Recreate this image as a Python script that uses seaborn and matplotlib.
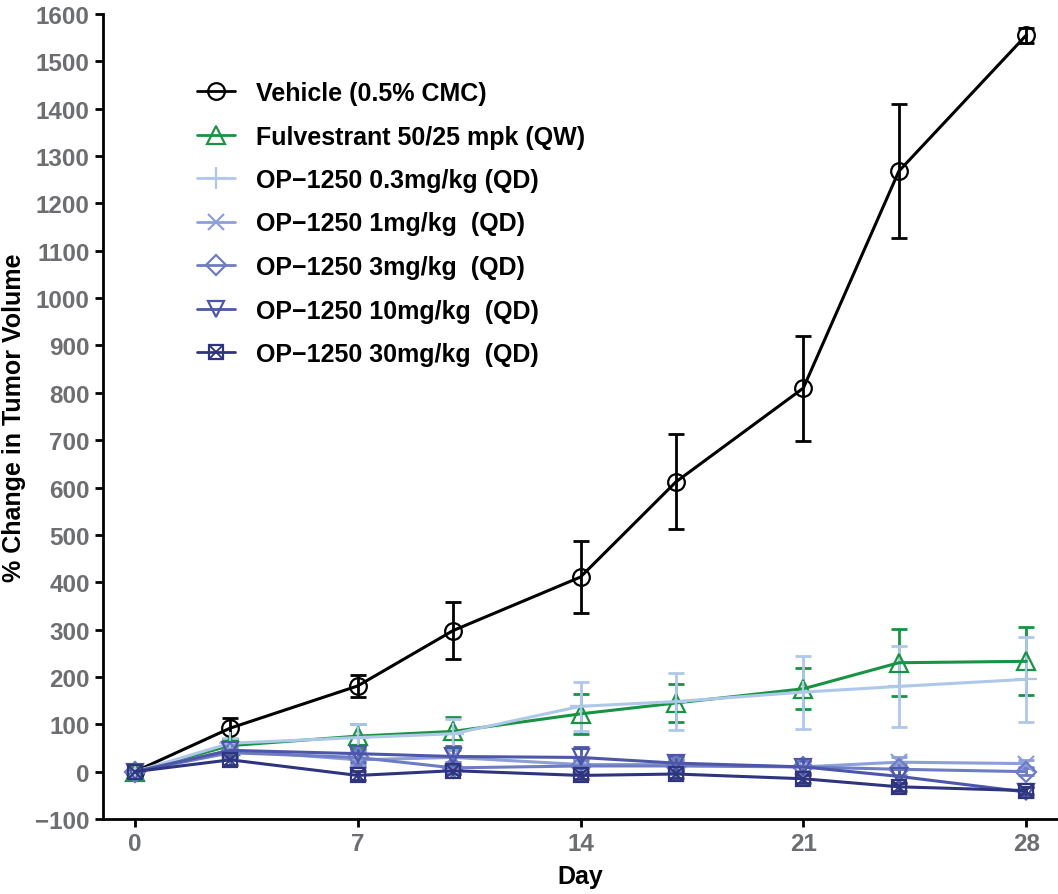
import numpy as np
import pandas as pd
import matplotlib
matplotlib.use("Agg")
import matplotlib.pyplot as plt
import seaborn as sns
from matplotlib.lines import Line2D
from matplotlib.legend_handler import HandlerTuple

sns.set_style("ticks")
plt.rcParams['font.family'] = ['Liberation Sans', 'DejaVu Sans']
plt.rcParams['font.weight'] = 'bold'
plt.rcParams['text.color'] = 'black'
plt.rcParams['axes.labelcolor'] = 'black'

days = [0, 3, 7, 10, 14, 17, 21, 24, 28]

labels = ["Vehicle (0.5% CMC)", "Fulvestrant 50/25 mpk (QW)", "OP\u22121250 0.3mg/kg (QD)",
          "OP\u22121250 1mg/kg  (QD)", "OP\u22121250 3mg/kg  (QD)", "OP\u22121250 10mg/kg  (QD)",
          "OP\u22121250 30mg/kg  (QD)"]

vehicle = [0, 92, 181, 298, 411, 612, 810, 1268, 1555]
vehicle_err = [0, 22, 23, 61, 77, 100, 111, 141, 16]
fulv = [0, 55, 75, 85, 122, 145, 175, 230, 233]
fulv_err = [0, 12, 25, 30, 43, 40, 43, 71, 72]
op03 = [0, 60, 72, 80, 138, 148, 168, 180, 195]
op03_err = [0, 12, 28, 32, 52, 60, 77, 86, 90]
op1 = [0, 45, 25, 30, 15, 15, 10, 20, 17]
op1_err = [0, 12, 15, 15, 12, 12, 12, 10, 8]
op3 = [0, 40, 30, 8, 12, 12, 10, 5, 0]
op3_err = [0, 12, 15, 12, 12, 12, 12, 12, 8]
op10 = [0, 45, 38, 32, 30, 18, 10, -10, -43]
op10_err = [0, 14, 18, 20, 22, 16, 15, 15, 10]
op30 = [0, 25, -8, 2, -8, -5, -15, -32, -40]
op30_err = [0, 10, 10, 8, 8, 8, 8, 8, 8]

values = [vehicle, fulv, op03, op1, op3, op10, op30]
errors = [vehicle_err, fulv_err, op03_err, op1_err, op3_err, op10_err, op30_err]

colors = ["#000000", "#179343", "#afc8ea", "#8c9fd6", "#6e7cc4", "#4d56a8", "#2f347f"]
markers = ["o", "^", "+", "x", "D", "v", "s"]
msizes = [12, 13, 16, 12, 10, 12, 10]

fig = plt.figure(figsize=(10.58, 8.95), dpi=100)
ax = fig.add_axes([103 / 1058, 75 / 895, 955 / 1058, 805 / 895])

handles = []
for lab, vals, err, c, m, ms in zip(labels, values, errors, colors, markers, msizes):
    df = pd.DataFrame({"Day": days, "val": vals})
    ax.errorbar(days, vals, yerr=err, fmt="none", ecolor=c, elinewidth=2, capsize=6, capthick=2, zorder=2)
    sns.lineplot(data=df, x="Day", y="val", ax=ax, color=c, linewidth=2.2, marker=m, markersize=ms,
                 markerfacecolor="none", markeredgecolor=c, markeredgewidth=1.6, zorder=3)
    if m == "s":
        ax.plot(days, vals, linestyle="none", marker="x", markersize=8, markeredgecolor=c,
                markeredgewidth=1.4, zorder=4)
        h = (Line2D([], [], color=c, lw=2, marker="s", ms=ms, mfc="none", mec=c, mew=1.6),
             Line2D([], [], color=c, lw=0, marker="x", ms=8, mec=c, mew=1.4))
    else:
        h = Line2D([], [], color=c, lw=2, marker=m, ms=ms, mfc="none", mec=c, mew=1.6)
    handles.append(h)

ax.set_xlim(-1, 29)
ax.set_ylim(-100, 1600)
ax.set_xticks([0, 7, 14, 21, 28])
ax.set_yticks(np.arange(-100, 1601, 100))
ax.tick_params(axis="both", labelsize=17.5, labelcolor="#6d6e71", width=2, length=6, color="black")
for t in ax.get_xticklabels() + ax.get_yticklabels():
    t.set_fontweight("bold")
for s in ["left", "bottom"]:
    ax.spines[s].set_linewidth(2)
    ax.spines[s].set_color("black")
sns.despine(ax=ax)
ax.set_xlabel("Day", fontsize=18, fontweight="bold", labelpad=6)
ax.set_ylabel("% Change in Tumor Volume", fontsize=18, fontweight="bold", labelpad=7)

ax.legend(handles, labels, loc="upper left", bbox_to_anchor=(197 / 1058, 1 - 82 / 895),
          bbox_transform=fig.transFigure, frameon=False, handlelength=1.5,
          handletextpad=0.85, labelspacing=0.78, borderpad=0, borderaxespad=0,
          handler_map={tuple: HandlerTuple(ndivide=1)}, prop={"weight": "bold", "size": 18})

fig.savefig("out.png", dpi=100)
